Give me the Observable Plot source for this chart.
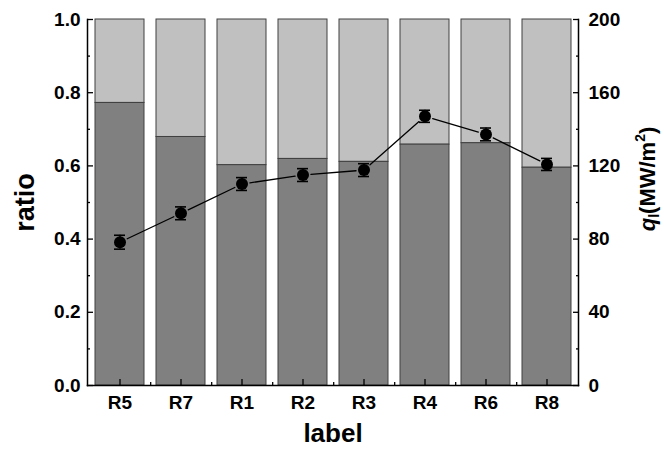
<!DOCTYPE html>
<html><head><meta charset="utf-8">
<script src="https://cdn.jsdelivr.net/npm/d3@7"></script>
<script src="https://cdn.jsdelivr.net/npm/@observablehq/plot@0.6"></script>
<style>body{margin:0;background:#fff} #chart{width:664px;height:450px}</style>
</head><body><div id="chart"></div>
<script>
const labels = ["R5","R7","R1","R2","R3","R4","R6","R8"];
const ratio = [0.772,0.679,0.602,0.619,0.611,0.658,0.662,0.595];
const ql = [78.3,94.1,110.1,115.0,117.7,147.1,137.2,120.8];
const qlErr = [3.8,3.5,3.5,3.5,3.5,3.3,3.5,3.3];
const ratioTicks = [0,0.2,0.4,0.6,0.8,1.0];
const ratioMinor = [0.1,0.3,0.5,0.7,0.9];
const qlTicks = [0,40,80,120,160,200];
const qlMax = 200;
const ratioMax = 1;

const data = labels.map((label,i)=>({label, ratio: ratio[i], q: ql[i], err: qlErr[i]}));
const segs = data.slice(1).map((d,i)=>({a: data[i], b: d}));
const W=664,H=450, mL=87, mR=86, mT=19, mB=65;
const half = (W-mL-mR)/labels.length/2;
const toR = q => q/qlMax*ratioMax;
const FF = "'Liberation Sans', Arial, Helvetica, sans-serif";

const plot = Plot.plot({
  width: W, height: H, marginLeft: mL, marginRight: mR, marginTop: mT, marginBottom: mB,
  style: {fontFamily: FF, fontSize:"19px", fontWeight:"bold", background:"#fff", color:"#000"},
  x: {domain: labels, paddingInner: 0.2, paddingOuter: 0.1},
  y: {domain: [0, ratioMax]},
  marks: [
    Plot.barY(data, {x:"label", y1:"ratio", y2: () => ratioMax, fill:"#c0c0c0", stroke:"#404040", strokeWidth:1}),
    Plot.barY(data, {x:"label", y:"ratio", fill:"#808080", stroke:"#404040", strokeWidth:1}),
    Plot.arrow(segs, {x1: d=>d.a.label, y1: d=>toR(d.a.q), x2: d=>d.b.label, y2: d=>toR(d.b.q), headLength:0, insetStart:8, insetEnd:8, stroke:"#000", strokeWidth:1.3}),
    Plot.ruleX(data, {x:"label", y1: d=>toR(d.q-d.err), y2: d=>toR(d.q+d.err), stroke:"#000", strokeWidth:1.3}),
    Plot.tickY(data, {x:"label", y: d=>toR(d.q+d.err), insetLeft:19, insetRight:19, stroke:"#000", strokeWidth:1.6}),
    Plot.tickY(data, {x:"label", y: d=>toR(d.q-d.err), insetLeft:19, insetRight:19, stroke:"#000", strokeWidth:1.6}),
    Plot.dot(data, {x:"label", y: d=>toR(d.q), r:6, fill:"#000", stroke:"none"}),
    Plot.axisY({anchor:"left", ticks: ratioTicks, tickSize:-6, tickPadding:13, tickFormat: d3.format(".1f"), label:null, strokeWidth:1.3}),
    Plot.axisY({anchor:"left", ticks: ratioMinor, tickSize:-3, tickFormat: () => "", label:null, strokeWidth:1.3}),
    Plot.axisY({anchor:"right", ticks: qlTicks.map(toR), tickSize:-6, tickPadding:16, tickFormat: (d,i) => String(qlTicks[i]), label:null, strokeWidth:1.3}),
    Plot.axisY({anchor:"right", ticks: ratioMinor, tickSize:-3, tickFormat: () => "", label:null, strokeWidth:1.3}),
    Plot.axisX({anchor:"bottom", ticks: labels, tickSize:-6, tickPadding:16, label:null, strokeWidth:1.3}),
    Plot.axisX({anchor:"bottom", ticks: labels.slice(0,-1), tickSize:-3, dx: half, tickFormat: () => "", label:null, strokeWidth:1.3}),
    Plot.frame({anchor:"left", stroke:"#000", strokeWidth:1.5}),
    Plot.frame({anchor:"right", stroke:"#000", strokeWidth:1.5}),
    Plot.frame({anchor:"bottom", stroke:"#000", strokeWidth:1.5}),
    Plot.text(["ratio"], {frameAnchor:"left", textAnchor:"middle", lineAnchor:"middle", text: d=>d, rotate:-90, dx:-62, fontSize:27, fontWeight:"bold", fill:"#000"}),
    Plot.text(["label"], {frameAnchor:"bottom", textAnchor:"middle", lineAnchor:"middle", text: d=>d, dy:48, fontSize:26, fontWeight:"bold", fill:"#000"})
  ]
});

const svg = d3.select(plot);
const t = svg.append("text")
  .attr("transform", "translate(655,179) rotate(-90)")
  .attr("text-anchor", "middle")
  .attr("font-family", FF).attr("font-weight", "bold").attr("font-size", 22).attr("fill", "#000");
t.append("tspan").attr("font-style", "italic").text("q");
t.append("tspan").attr("font-size", 14).attr("dy", 4).text("l");
t.append("tspan").attr("dy", -4).text("(MW/m");
t.append("tspan").attr("font-size", 14).attr("dy", -10).text("2");
t.append("tspan").attr("dy", 10).text(")");

document.getElementById("chart").appendChild(plot);
</script>
</body></html>
